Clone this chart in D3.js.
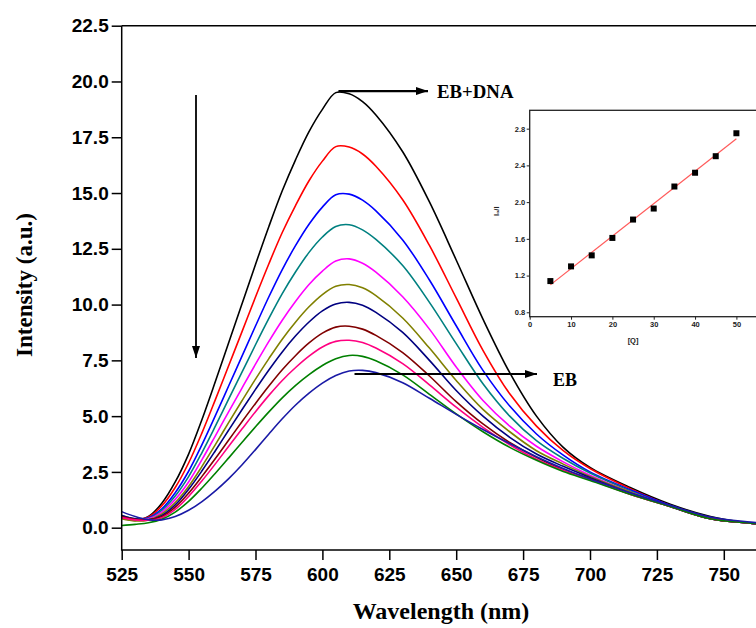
<!DOCTYPE html>
<html><head><meta charset="utf-8">
<script src="https://cdn.jsdelivr.net/npm/d3@7"></script>
<style>body{margin:0;background:#fff;overflow:hidden}</style>
</head><body><svg id="c" width="756" height="628"></svg>
<script>
// ---------- data ----------
const wavelengths = [525,530,535,540,545,550,555,560,565,570,575,580,585,590,595,600,605,610,615,620,630,640,650,660,670,680,690,700,715,730,745,760,775];
const yTicks = [0,2.5,5,7.5,10,12.5,15,17.5,20,22.5];
const xTicks = [525,550,575,600,625,650,675,700,725,750];
const seriesColors = ["#000000","#ff0000","#0000ff","#008080","#ff00ff","#808000","#000080","#800000","#ff0080","#008000","#1a1aa6"];
const sEBDNA = [0.45,0.33,0.5,1.1,2.05,3.3,4.85,6.55,8.3,10.05,11.8,13.5,15.1,16.5,17.75,18.75,19.5,19.45,19.1,18.5,16.85,14.6,12.0,9.35,6.95,5.0,3.6,2.7,1.8,1.05,0.5,0.2,0.05];
const sQ1 = [0.5,0.38,0.48,0.98,1.8,2.9,4.25,5.74,7.27,8.8,10.34,11.83,13.23,14.45,15.55,16.43,17.08,17.06,16.75,16.2,14.7,12.65,10.3,7.95,6.0,4.55,3.45,2.65,1.75,1.0,0.45,0.2,0.05];
const sQ2 = [0.5,0.37,0.45,0.85,1.57,2.53,3.72,5.02,6.36,7.7,9.04,10.35,11.57,12.65,13.6,14.37,14.92,14.95,14.68,14.2,12.9,11.1,9.05,7.05,5.45,4.2,3.25,2.5,1.7,1.0,0.42,0.2,0.05];
const sQ3 = [0.55,0.4,0.42,0.78,1.42,2.29,3.37,4.55,5.77,6.98,8.2,9.38,10.49,11.47,12.34,13.03,13.5,13.58,13.35,12.92,11.75,10.1,8.25,6.45,5.0,3.9,3.1,2.45,1.65,0.95,0.4,0.2,0.05];
const sQ4 = [0.45,0.35,0.4,0.7,1.27,2.05,3.05,4.12,5.2,6.27,7.33,8.35,9.3,10.15,10.9,11.5,11.95,12.05,11.85,11.45,10.35,8.9,7.2,5.7,4.55,3.65,2.95,2.35,1.6,0.95,0.4,0.2,0.05];
const sQ5 = [0.4,0.3,0.35,0.62,1.13,1.85,2.75,3.72,4.72,5.7,6.66,7.58,8.45,9.22,9.9,10.45,10.82,10.9,10.75,10.4,9.4,8.05,6.6,5.3,4.3,3.45,2.85,2.3,1.6,0.95,0.4,0.2,0.05];
const sQ6 = [0.55,0.4,0.35,0.55,1.02,1.72,2.55,3.45,4.38,5.3,6.2,7.07,7.88,8.6,9.22,9.72,10.03,10.1,9.97,9.65,8.75,7.5,6.15,5.0,4.05,3.3,2.75,2.25,1.55,0.95,0.4,0.2,0.05];
const sQ7 = [0.5,0.38,0.35,0.5,0.92,1.55,2.3,3.1,3.93,4.76,5.57,6.35,7.08,7.72,8.28,8.72,8.99,9.03,8.9,8.62,7.85,6.8,5.65,4.65,3.82,3.15,2.6,2.2,1.5,0.95,0.4,0.2,0.05];
const sQ8 = [0.45,0.35,0.33,0.45,0.82,1.4,2.1,2.86,3.65,4.43,5.2,5.93,6.6,7.18,7.69,8.1,8.35,8.4,8.3,8.05,7.35,6.4,5.4,4.5,3.72,3.07,2.57,2.15,1.5,0.95,0.4,0.2,0.05];
const sQ9 = [0.1,0.15,0.22,0.38,0.7,1.18,1.78,2.44,3.13,3.83,4.52,5.19,5.82,6.38,6.86,7.27,7.57,7.72,7.68,7.48,6.85,5.98,5.1,4.3,3.6,3.02,2.52,2.12,1.5,0.95,0.4,0.2,0.05];
const sEB = [0.72,0.5,0.36,0.35,0.5,0.78,1.17,1.65,2.2,2.82,3.5,4.2,4.88,5.5,6.03,6.48,6.82,7.02,7.05,6.95,6.5,5.8,5.08,4.4,3.77,3.18,2.65,2.18,1.57,1.0,0.48,0.25,0.1];
const seriesList = [sEBDNA,sQ1,sQ2,sQ3,sQ4,sQ5,sQ6,sQ7,sQ8,sQ9,sEB];

const quencherConc = [5,10,15,20,25,30,35,40,45,50];
const ratioI0I = [1.14,1.30,1.42,1.61,1.81,1.93,2.17,2.32,2.50,2.75];
const insetXTicks = [0,10,20,30,40,50];
const insetYTicks = [0.8,1.2,1.6,2.0,2.4,2.8];

// ---------- main chart ----------
const svg = d3.select("#c");
const x = d3.scaleLinear().domain([525,775]).range([121.7,790.7]);
const y = d3.scaleLinear().domain([-1,22.5]).range([550,25.7]);

const defs = svg.append("defs");
defs.append("clipPath").attr("id","pc").append("rect")
  .attr("x",x(525)).attr("y",y(22.5)).attr("width",x(775)-x(525)).attr("height",y(-1)-y(22.5));
defs.append("marker").attr("id","ah").attr("viewBox","0 0 12 8").attr("refX",12).attr("refY",4)
  .attr("markerWidth",12).attr("markerHeight",8).attr("markerUnits","userSpaceOnUse").attr("orient","auto")
  .append("path").attr("d","M0,0L12,4L0,8Z").attr("fill","#000");

const line = d3.line().x((d,i)=>x(wavelengths[i])).y(d=>y(d)).curve(d3.curveCatmullRom.alpha(0.5));
const g = svg.append("g").attr("clip-path","url(#pc)");
seriesList.forEach((s,k)=>{
  g.append("path").attr("d",line(s)).attr("fill","none")
   .attr("stroke",seriesColors[k]).attr("stroke-width",1.6);
});

// axes
const tickFont = "'Liberation Sans', Arial, sans-serif";
const yAxis = svg.append("g").attr("transform",`translate(${x(525)},0)`)
  .call(d3.axisLeft(y).tickValues(yTicks).tickFormat(d3.format(".1f")).tickSize(10).tickPadding(3));
const xAxis = svg.append("g").attr("transform",`translate(0,${y(-1)})`)
  .call(d3.axisBottom(x).tickValues(xTicks).tickFormat(d3.format("d")).tickSize(10).tickPadding(8));
[yAxis,xAxis].forEach(a=>{
  a.select(".domain").remove();
  a.selectAll(".tick line").attr("stroke","#000").attr("stroke-width",1.5);
  a.selectAll(".tick text").attr("fill","#000").style("font-family",tickFont)
   .style("font-weight","bold").style("font-size","19px");
});
// frame lines
svg.append("line").attr("x1",x(525)).attr("x2",x(525)).attr("y1",y(22.5)).attr("y2",y(-1)).attr("stroke","#000").attr("stroke-width",1.5);
svg.append("line").attr("x1",x(525)-0.75).attr("x2",x(775)).attr("y1",y(-1)).attr("y2",y(-1)).attr("stroke","#000").attr("stroke-width",1.5);
svg.append("line").attr("x1",x(525)).attr("x2",x(775)).attr("y1",y(22.5)).attr("y2",y(22.5)).attr("stroke","#000").attr("stroke-width",1.5);

// axis titles
const serif = "'Liberation Serif','Times New Roman',serif";
svg.append("text").attr("transform","translate(32,285) rotate(-90)").attr("text-anchor","middle")
  .style("font-family",serif).style("font-weight","bold").style("font-size","23px").text("Intensity (a.u.)");
svg.append("text").attr("x",441).attr("y",619).attr("text-anchor","middle")
  .style("font-family",serif).style("font-weight","bold").style("font-size","24px").text("Wavelength (nm)");

// annotations
svg.append("line").attr("x1",196).attr("x2",196).attr("y1",95).attr("y2",358)
  .attr("stroke","#000").attr("stroke-width",1.8).attr("marker-end","url(#ah)");
svg.append("line").attr("x1",x(606)).attr("x2",428).attr("y1",y(19.57)).attr("y2",y(19.57))
  .attr("stroke","#000").attr("stroke-width",2.2).attr("marker-end","url(#ah)");
svg.append("text").attr("x",437).attr("y",97.5).style("font-family",serif).style("font-weight","bold")
  .style("font-size","18.8px").text("EB+DNA");
svg.append("line").attr("x1",x(612)).attr("x2",537).attr("y1",374).attr("y2",374)
  .attr("stroke","#000").attr("stroke-width",2).attr("marker-end","url(#ah)");
svg.append("text").attr("x",553).attr("y",385.5).style("font-family",serif).style("font-weight","bold")
  .style("font-size","18px").text("EB");

// ---------- inset ----------
const ix = d3.scaleLinear().domain([0,56]).range([529.7,529.7+4.134*56]);
const iy = d3.scaleLinear().domain([0.752,3.0]).range([316.7,110.3]);
const ins = svg.append("g");
ins.append("rect").attr("x",ix(0)).attr("y",iy(3.0)).attr("width",ix(56)-ix(0)).attr("height",iy(0.752)-iy(3.0))
  .attr("fill","#fff").attr("stroke","#222").attr("stroke-width",1.3);
const iya = ins.append("g").attr("transform",`translate(${ix(0)},0)`)
  .call(d3.axisLeft(iy).tickValues(insetYTicks).tickFormat(d3.format(".1f")).tickSize(3).tickPadding(1.5));
const ixa = ins.append("g").attr("transform",`translate(0,${iy(0.752)})`)
  .call(d3.axisBottom(ix).tickValues(insetXTicks).tickFormat(d3.format("d")).tickSize(3).tickPadding(2));
[iya,ixa].forEach(a=>{
  a.select(".domain").remove();
  a.selectAll(".tick line").attr("stroke","#222").attr("stroke-width",1);
  a.selectAll(".tick text").attr("fill","#222").style("font-family",tickFont)
   .style("font-weight","bold").style("font-size","7.5px");
});
// regression line from the data
const mx = d3.mean(quencherConc), my = d3.mean(ratioI0I);
const slope = d3.sum(quencherConc,(v,i)=>(v-mx)*(ratioI0I[i]-my))/d3.sum(quencherConc,v=>(v-mx)*(v-mx));
const icpt = my - slope*mx;
const xmin = d3.min(quencherConc), xmax = d3.max(quencherConc);
ins.append("line").attr("x1",ix(xmin)).attr("y1",iy(icpt+slope*xmin)).attr("x2",ix(xmax)).attr("y2",iy(icpt+slope*xmax))
  .attr("stroke","#ff5a5a").attr("stroke-width",1.2);
ins.selectAll("rect.pt").data(quencherConc).enter().append("rect").attr("class","pt")
  .attr("x",(d)=>ix(d)-3).attr("y",(d,i)=>iy(ratioI0I[i])-3).attr("width",6).attr("height",6).attr("fill","#000");
ins.append("text").attr("x",ix(25)).attr("y",343).attr("text-anchor","middle")
  .style("font-family",tickFont).style("font-weight","bold").style("font-size","7.5px").attr("fill","#222").text("[Q]");
ins.append("text").attr("transform",`translate(499,${iy(1.9)}) rotate(-90)`).attr("text-anchor","middle")
  .style("font-family",tickFont).style("font-weight","bold").style("font-size","7.5px").attr("fill","#222").text("I₀/I");
</script></body></html>
